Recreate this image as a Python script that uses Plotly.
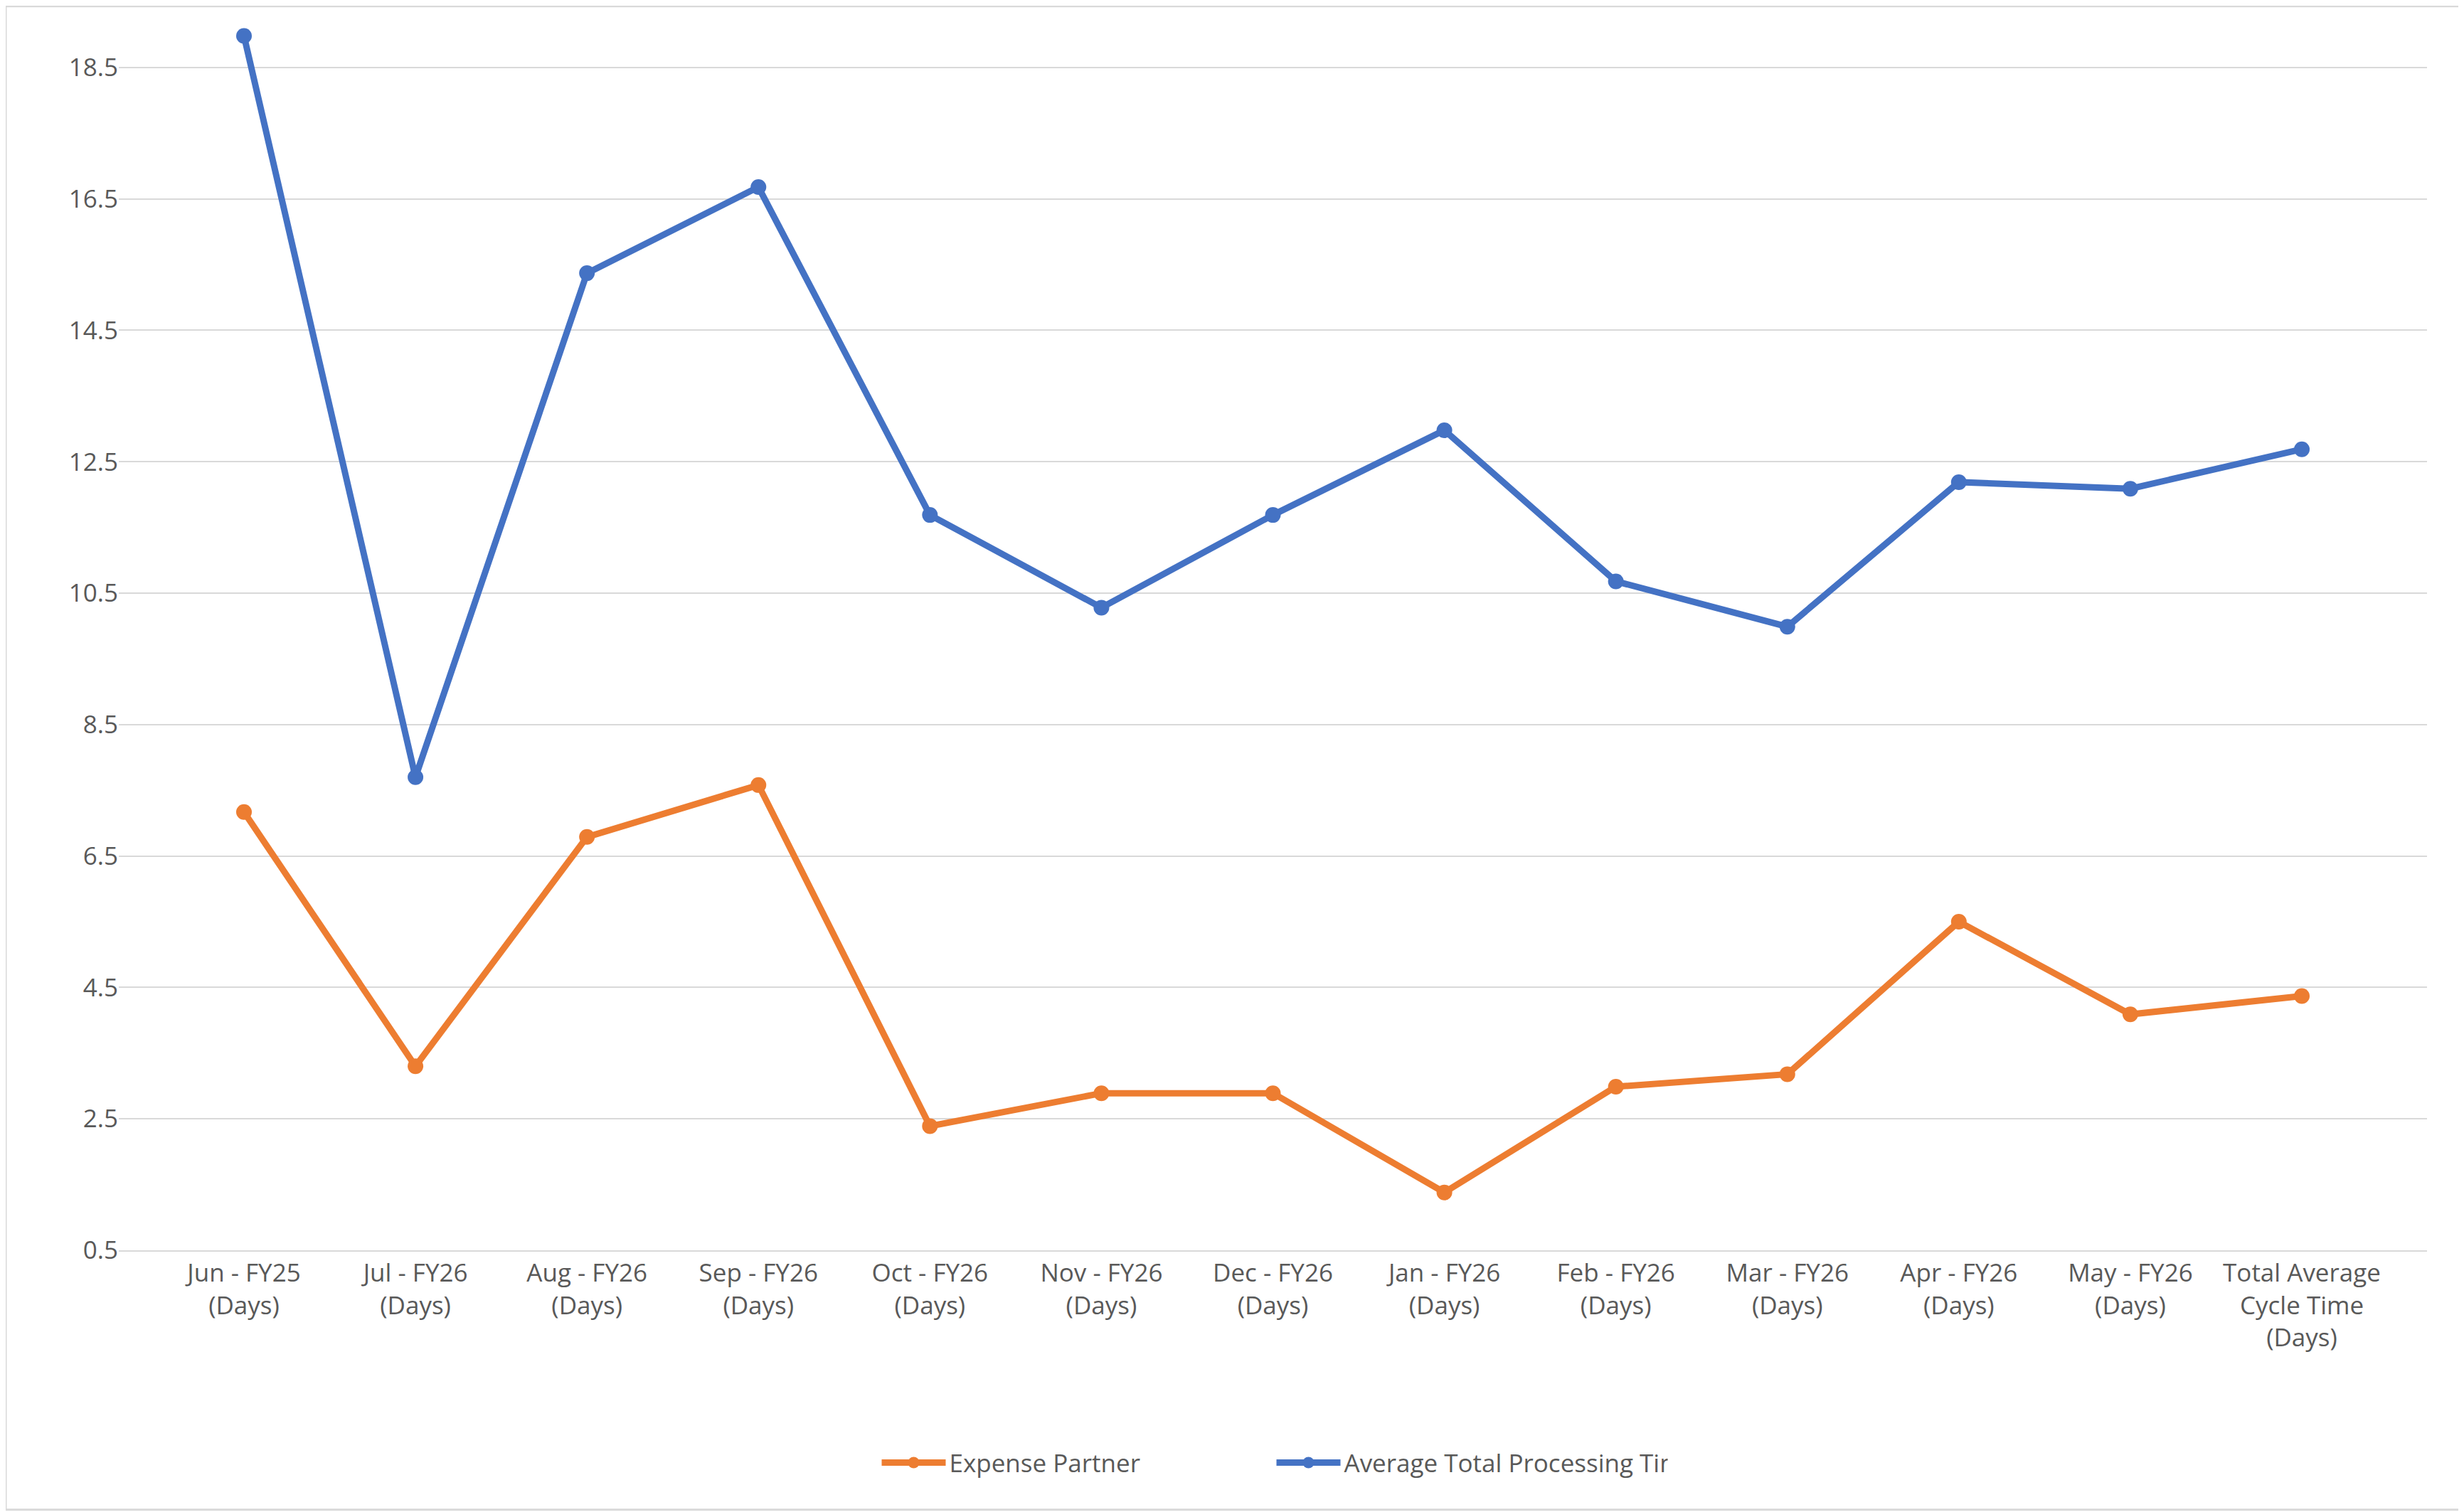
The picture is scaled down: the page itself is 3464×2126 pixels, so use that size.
import plotly.graph_objects as go

categories = ["Jun - FY25<br>(Days)", "Jul - FY26<br>(Days)", "Aug - FY26<br>(Days)", "Sep - FY26<br>(Days)",
              "Oct - FY26<br>(Days)", "Nov - FY26<br>(Days)", "Dec - FY26<br>(Days)", "Jan - FY26<br>(Days)",
              "Feb - FY26<br>(Days)", "Mar - FY26<br>(Days)", "Apr - FY26<br>(Days)", "May - FY26<br>(Days)",
              "Total Average<br>Cycle Time<br>(Days)"]
expense_partner = [7.17, 3.3, 6.79, 7.58, 2.39, 2.89, 2.89, 1.38, 2.99, 3.18, 5.5, 4.09, 4.37]
avg_total = [18.98, 7.7, 15.37, 16.68, 11.69, 10.28, 11.69, 12.98, 10.68, 9.99, 12.19, 12.09, 12.69]
y_ticks = [0.5, 2.5, 4.5, 6.5, 8.5, 10.5, 12.5, 14.5, 16.5, 18.5]

fig = go.Figure()
fig.add_trace(go.Scatter(x=categories, y=expense_partner, name="Expense Partner", mode="lines+markers",
                         line=dict(color="#ED7D31", width=9), marker=dict(size=22, color="#ED7D31")))
fig.add_trace(go.Scatter(x=categories, y=avg_total, name="Average Total Processing Time", mode="lines+markers",
                         line=dict(color="#4472C4", width=9), marker=dict(size=22, color="#4472C4")))

fig.update_layout(
    width=3464, height=2126, paper_bgcolor="white", plot_bgcolor="white",
    margin=dict(l=159, r=60, t=13, b=376),
    font=dict(family="Open Sans, Liberation Sans, sans-serif", size=35, color="#595959"),
    legend=dict(orientation="h", x=0.5, xanchor="center", y=-0.155, yanchor="top",
                font=dict(size=35, color="#595959"), traceorder="normal", itemwidth=90, entrywidth=450),
    xaxis=dict(showgrid=False, showline=True, linecolor="#D9D9D9", linewidth=2, ticks="", automargin=False,
               tickfont=dict(size=35, color="#595959")),
    yaxis=dict(range=[0.5, 19.3], tickvals=y_ticks, tickformat=".1f", showgrid=True, gridcolor="#D9D9D9",
               gridwidth=2, zeroline=False, ticks="", automargin=False, tickfont=dict(size=35, color="#595959")),
    shapes=[dict(type="rect", xref="paper", yref="paper", x0=-0.049, x1=1.0185, y0=-0.21, y1=1.007,
                 line=dict(color="#D9D9D9", width=3))],
)
fig.write_html("out.html")
